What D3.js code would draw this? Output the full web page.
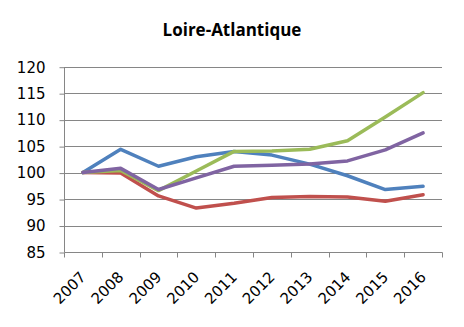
<!DOCTYPE html>
<html><head><meta charset="utf-8">
<script src="https://cdn.jsdelivr.net/npm/d3@7"></script>
<style>body{margin:0;background:#fff}svg{display:block}</style>
</head><body>
<script>
const years = ["2007","2008","2009","2010","2011","2012","2013","2014","2015","2016"];
const blueVals   = [100, 104.4, 101.2, 103.0, 104.0, 103.3, 101.6, 99.4, 96.8, 97.4];
const redVals    = [100, 99.9, 95.6, 93.3, 94.2, 95.3, 95.5, 95.4, 94.6, 95.8];
const greenVals  = [100, 100.4, 96.6, 100.3, 104.0, 104.1, 104.4, 106.0, 110.5, 115.1];
const purpleVals = [100, 100.8, 96.8, 99.0, 101.2, 101.4, 101.6, 102.2, 104.3, 107.5];
const yTicks = [85, 90, 95, 100, 105, 110, 115, 120];
const title = "Loire-Atlantique";
const series = [
  {name:"blue", values: blueVals, color:"#4F81BD"},
  {name:"red", values: redVals, color:"#C0504D"},
  {name:"green", values: greenVals, color:"#9BBB59"},
  {name:"purple", values: purpleVals, color:"#8064A2"}
];

(function(){
const W = 464, H = 327;
const svg = d3.select("body").append("svg").attr("width", W).attr("height", H);
const pL = 64, pR = 442, pT = 66.7, pB = 252;
const x = d3.scaleBand().domain(years).range([pL, pR]);
const y = d3.scaleLinear().domain([85, 120]).range([pB, pT]);
const font = "'DejaVu Sans', sans-serif";

svg.append("text").attr("x", 232).attr("y", 36).attr("text-anchor","middle")
  .attr("font-family", "'Open Sans', sans-serif").attr("font-weight","bold").attr("font-size", 17)
  .attr("fill","#000").text(title);

// gridlines
svg.append("g").selectAll("line").data(yTicks.filter(t=>t>85)).join("line")
  .attr("x1", pL).attr("x2", pR)
  .attr("y1", d=>Math.round(y(d))+0.5).attr("y2", d=>Math.round(y(d))+0.5)
  .attr("stroke","#868686").attr("stroke-width",1);

// y axis
const yAxis = d3.axisLeft(y).tickValues(yTicks).tickSize(5).tickPadding(14);
const gy = svg.append("g").attr("transform", `translate(${pL+0.5},0.5)`).call(yAxis);
gy.select(".domain").attr("stroke","#868686").attr("d", `M0,${pT}V${pB}`);
gy.selectAll(".tick line").attr("stroke","#868686");
gy.selectAll(".tick text").attr("font-family", font).attr("font-size", 15).attr("fill","#000");

// x axis
const gx = svg.append("g").attr("transform", `translate(0.5,${pB+0.5})`);
gx.append("line").attr("x1", pL).attr("x2", pR).attr("stroke","#868686");
const bounds = years.map(d=>x(d)).concat([pR]);
gx.selectAll(".tk").data(bounds).join("line").attr("class","tk")
  .attr("x1", d=>Math.round(d)).attr("x2", d=>Math.round(d)).attr("y1",0).attr("y2",5).attr("stroke","#868686");
gx.selectAll("text.lb").data(years).join("text").attr("class","lb")
  .attr("transform", d=>`translate(${x(d)+x.bandwidth()/2-4},${18}) rotate(-45)`)
  .attr("text-anchor","end").attr("dy","0.7em")
  .attr("font-family", font).attr("font-size", 15).attr("fill","#000").text(d=>d);

const line = d3.line().x((d,i)=>x(years[i])+x.bandwidth()/2).y(d=>y(d));
svg.append("g").selectAll("path").data(series).join("path")
  .attr("d", d=>line(d.values)).attr("fill","none").attr("stroke", d=>d.color)
  .attr("stroke-width", 3.5).attr("stroke-linejoin","round").attr("stroke-linecap","round");
})();
</script>
</body></html>
